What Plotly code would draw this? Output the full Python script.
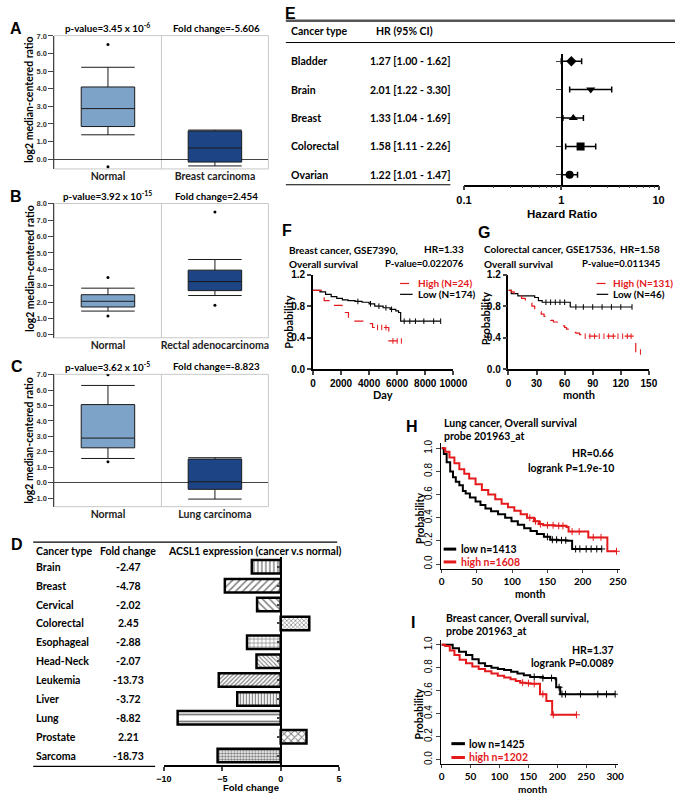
import plotly.graph_objects as go

W, H = 689, 800

# ---------------- data ----------------
# Panel A (Oncomine box plot)
a_groups = ["Normal", "Breast carcinoma"]
a_lowf = [1.38, -0.39]
a_q1 = [1.85, -0.17]
a_med = [2.87, 0.63]
a_q3 = [4.10, 1.60]
a_upf = [5.22, 1.65]
a_out_grp = ["Normal", "Normal"]
a_out_val = [6.51, -0.43]
a_pvalue = "3.45 x 10<sup>-6</sup>"
a_fold = "-5.606"

# Panel B
b_groups = ["Normal", "Rectal adenocarcinoma"]
b_lowf = [1.45, 2.40]
b_q1 = [1.70, 2.70]
b_med = [2.05, 3.25]
b_q3 = [2.45, 3.95]
b_upf = [2.85, 4.60]
b_out_grp = ["Normal", "Normal", "Rectal adenocarcinoma", "Rectal adenocarcinoma"]
b_out_val = [3.50, 1.15, 7.50, 1.80]
b_pvalue = "3.92 x 10<sup>-15</sup>"
b_fold = "2.454"

# Panel C
c_groups = ["Normal", "Lung carcinoma"]
c_lowf = [1.57, -1.06]
c_q1 = [2.26, -0.43]
c_med = [2.89, 0.06]
c_q3 = [5.06, 1.53]
c_upf = [6.30, 1.62]
c_out_grp = ["Normal", "Normal"]
c_out_val = [7.00, 1.36]
c_pvalue = "3.62 x 10<sup>-5</sup>"
c_fold = "-8.823"

# Panel D
d_types = ["Brain", "Breast", "Cervical", "Colorectal", "Esophageal", "Head-Neck",
           "Leukemia", "Liver", "Lung", "Prostate", "Sarcoma"]
d_fold = [-2.47, -4.78, -2.02, 2.45, -2.88, -2.07, -13.73, -3.72, -8.82, 2.21, -18.73]
d_bar = [-2.47, -4.78, -2.02, 2.45, -2.88, -2.07, -5.3, -3.72, -8.82, 2.21, -5.4]
d_ticks = [-10, -5, 0, 5]

# Panel E (forest plot)
e_types = ["Bladder", "Brain", "Breast", "Colorectal", "Ovarian"]
e_hr = [1.27, 2.01, 1.33, 1.58, 1.22]
e_lo = [1.00, 1.22, 1.04, 1.11, 1.01]
e_hi = [1.62, 3.30, 1.69, 2.26, 1.47]

# Panel F (breast cancer GSE7390, days)
f_high_t = [0, 700, 800, 1260, 2070, 2530, 2990, 3560, 4250, 5400, 6320]
f_high_s = [1.0, 0.94, 0.87, 0.81, 0.72, 0.66, 0.61, 0.58, 0.53, 0.36, 0.36]
f_low_t = [0, 500, 900, 1300, 1700, 2100, 2500, 3000, 3500, 4000, 4400, 5000, 5500, 5900, 6100, 6250, 9100]
f_low_s = [1.0, 0.98, 0.95, 0.92, 0.90, 0.88, 0.87, 0.86, 0.85, 0.83, 0.80, 0.78, 0.76, 0.74, 0.72, 0.61, 0.61]
f_high_cens = [4600, 4900, 5200, 5700, 6000, 6300]
f_low_cens = [3200, 4100, 4700, 5200, 5600, 6500, 6900, 7300, 7900, 8600, 9100]

# Panel G (colorectal cancer GSE17536, months)
g_high_t = [0, 3, 6, 10, 14, 18, 21, 25, 28, 31, 35, 38, 41, 45, 48, 52, 56, 60, 62, 66, 70, 72, 76, 79, 136, 143]
g_high_s = [1.0, 0.98, 0.96, 0.93, 0.90, 0.87, 0.84, 0.80, 0.76, 0.73, 0.70, 0.67, 0.65, 0.62, 0.60, 0.575,
            0.55, 0.53, 0.51, 0.49, 0.47, 0.46, 0.44, 0.42, 0.22, 0.22]
g_low_t = [0, 3, 10, 28, 32, 36, 66, 132]
g_low_s = [1.0, 0.96, 0.93, 0.91, 0.87, 0.85, 0.79, 0.79]
g_high_cens = [82, 87, 92, 97, 102, 107, 112, 117, 122, 127, 131, 141]
g_low_cens = [40, 45, 50, 55, 60, 72, 80, 90, 100, 110, 120, 132]

# Panel H (lung cancer, KM plotter)
h_low_t = [0, 3, 7, 12, 16, 20, 25, 30, 34, 40, 48, 55, 62, 70, 80, 90, 99, 108, 117, 126, 135, 145, 154,
           165, 177, 185, 227]
h_low_s = [1.0, 0.95, 0.88, 0.80, 0.75, 0.71, 0.68, 0.63, 0.61, 0.575, 0.54, 0.51, 0.48, 0.455, 0.43, 0.40,
           0.37, 0.34, 0.31, 0.285, 0.26, 0.235, 0.21, 0.205, 0.20, 0.13, 0.13]
h_high_t = [0, 5, 11, 18, 25, 32, 39, 48, 57, 66, 76, 85, 94, 103, 112, 121, 131, 138, 144, 160, 177, 180,
            205, 208, 232, 235, 248]
h_high_s = [1.0, 0.97, 0.92, 0.87, 0.82, 0.78, 0.74, 0.69, 0.64, 0.60, 0.56, 0.52, 0.49, 0.46, 0.43, 0.40,
            0.37, 0.345, 0.335, 0.33, 0.32, 0.28, 0.28, 0.23, 0.23, 0.11, 0.11]
h_low_cens = [150, 157, 163, 170, 176, 190, 196, 205, 212, 220, 227]
h_high_cens = [125, 133, 140, 150, 158, 166, 172, 185, 195, 215, 226, 248]

# Panel I (breast cancer, KM plotter)
i_low_t = [0, 8, 19, 30, 42, 53, 64, 75, 86, 97, 108, 120, 131, 142, 153, 175, 197, 198, 205, 300]
i_low_s = [1.0, 1.0, 0.97, 0.94, 0.91, 0.875, 0.84, 0.815, 0.80, 0.79, 0.78, 0.765, 0.75, 0.735, 0.72, 0.71,
           0.70, 0.63, 0.57, 0.57]
i_high_t = [0, 6, 14, 22, 31, 42, 53, 64, 75, 86, 97, 108, 119, 128, 136, 145, 153, 170, 181, 191, 233]
i_high_s = [1.0, 0.99, 0.95, 0.91, 0.87, 0.84, 0.81, 0.79, 0.77, 0.75, 0.73, 0.715, 0.70, 0.685, 0.67, 0.665,
            0.66, 0.57, 0.51, 0.39, 0.39]
i_low_cens = [160, 175, 190, 203, 208, 214, 240, 270, 285, 300]
i_high_cens = [140, 150, 160, 175, 193, 233]

# ---------------- helpers ----------------
CAL = "Lato, Carlito, Calibri, sans-serif"
ARI = "Liberation Sans, Arial, sans-serif"
RED = "#e41a1c"


def dx(a, b):
    return [a / W, b / W]


def dy(top, bot):
    return [1 - bot / H, 1 - top / H]


annotations = []
shapes = []


def T(s, x, y, size=11, color="black", xa="left", fam=CAL, bold=True, yref=None, angle=0):
    annotations.append(dict(
        text=f"<b>{s}</b>" if bold else s,
        x=x / W, xref="paper",
        y=(1 - y / H) if yref is None else y, yref="paper" if yref is None else yref,
        xanchor=xa, yanchor="middle", showarrow=False, textangle=angle,
        font=dict(family=fam, size=size, color=color)))


def L(x0, y0, x1, y1, color="black", width=1, dash="solid"):
    shapes.append(dict(type="line", xref="paper", yref="paper",
                       x0=x0 / W, x1=x1 / W, y0=1 - y0 / H, y1=1 - y1 / H,
                       line=dict(color=color, width=width, dash=dash)))


def surv_at(ts, ss, t):
    v = ss[0]
    for tt, s in zip(ts, ss):
        if tt <= t:
            v = s
    return v


def key(n):
    return "" if n == 1 else str(n)


fig = go.Figure()
layout = {}

# ---------------- Panels A-C ----------------
box_colors = ["#7ea3c9", "#1d4485"]
panels = [
    (1, a_groups, a_lowf, a_q1, a_med, a_q3, a_upf, a_out_grp, a_out_val, 31, 166, [-0.56, 7.02], True),
    (2, b_groups, b_lowf, b_q1, b_med, b_q3, b_upf, b_out_grp, b_out_val, 201, 337, [-0.18, 8.02], False),
    (3, c_groups, c_lowf, c_q1, c_med, c_q3, c_upf, c_out_grp, c_out_val, 374, 508, [-1.55, 7.02], True),
]
for (n, grp, lf, q1, md, q3, uf, og, ov, top, bot, rng, zl) in panels:
    k = key(n)
    for i, g in enumerate(grp):
        fig.add_trace(go.Box(x=[g], q1=[q1[i]], median=[md[i]], q3=[q3[i]],
                             lowerfence=[lf[i]], upperfence=[uf[i]],
                             fillcolor=box_colors[i], line=dict(color="#1a1a1a", width=1),
                             width=0.5, whiskerwidth=1, boxpoints=False,
                             xaxis="x" + k, yaxis="y" + k, hoverinfo="skip"))
    fig.add_trace(go.Scatter(x=og, y=ov, mode="markers",
                             marker=dict(color="black", size=3),
                             xaxis="x" + k, yaxis="y" + k, hoverinfo="skip"))
    layout["xaxis" + k] = dict(domain=dx(48, 269), range=[-0.5, 1.5], type="category",
                               categoryorder="array", categoryarray=grp,
                               showline=False, ticks="", showgrid=False, zeroline=False,
                               tickfont=dict(family=CAL, size=10.5, color="#222", weight="bold"),
                               anchor="y" + k)
    layout["yaxis" + k] = dict(domain=dy(top, bot), range=rng, showline=True, linecolor="#444",
                               linewidth=1, ticks="outside", ticklen=5, tickcolor="#444",
                               tick0=0, dtick=1, tickformat=".1f", showgrid=False,
                               zeroline=zl, zerolinecolor="#444", zerolinewidth=1.2,
                               tickfont=dict(family=ARI, size=7.5, color="#333", weight="bold"),
                               anchor="x" + k)
    shapes.append(dict(type="rect", xref=f"x{k} domain", yref=f"y{k} domain", x0=0, x1=1, y0=0, y1=1,
                       line=dict(color="#c8c8c8", width=1), layer="below"))
    shapes.append(dict(type="line", xref=f"x{k} domain", yref=f"y{k} domain", x0=0.5, x1=0.5, y0=0, y1=1,
                       line=dict(color="#c8c8c8", width=1), layer="below"))

for (pv, fc, yy) in [(a_pvalue, a_fold, 23), (b_pvalue, b_fold, 193), (c_pvalue, c_fold, 366)]:
    T("p-value=" + pv, 103, yy, size=9.8, xa="center")
    T("Fold change=" + fc, 215, yy, size=9.8, xa="center")
for yy in [96, 267, 441]:
    T("log2 median-centered ratio", 22, yy, size=10.5, xa="center", angle=-90)

# ---------------- Panel D ----------------
fig.add_trace(go.Bar(
    x=d_bar, y=d_types, orientation="h", width=0.72,
    marker=dict(color="white", line=dict(color="black", width=2.5),
                pattern=dict(shape=["|", "/", "\\", "x", "+", "\\", "/", "|", "-", "x", "."],
                             size=[4, 5, 5, 3, 4, 3, 3, 3, 7, 5, 3],
                             solidity=[0.35, 0.3, 0.3, 0.4, 0.3, 0.35, 0.4, 0.4, 0.25, 0.35, 0.5],
                             fgcolor="black", bgcolor="white")),
    xaxis="x4", yaxis="y4", hoverinfo="skip"))
layout["xaxis4"] = dict(domain=dx(161, 342), range=[-10, 5], tickvals=d_ticks, ticks="outside",
                        ticklen=4, tickwidth=2, showline=True, linewidth=2, linecolor="black",
                        showgrid=False, zeroline=False, anchor="y4",
                        tickfont=dict(family=ARI, size=9, color="black", weight="bold"))
layout["yaxis4"] = dict(domain=dy(559, 770), type="category", categoryorder="array", categoryarray=d_types,
                        range=[10.52, -0.52], showline=True, linewidth=2, linecolor="black",
                        ticks="outside", ticklen=3, tickwidth=1.5, showticklabels=False, showgrid=False,
                        anchor="free", position=282 / W)
T("Fold change", 251, 792, size=9.5, fam=ARI, xa="center")
T("Cancer type", 27, 553, size=10.5)
T("Fold change", 93, 553, size=10.5)
T("ACSL1 expression (cancer v.s normal)", 163, 553, size=10.5)
for name, fc in zip(d_types, d_fold):
    T(name, 27, name, size=10.5, yref="y4")
    T(f"{fc:.2f}", 124, name, size=10.5, xa="center", yref="y4")
L(26, 544, 340, 544, width=1.3)
L(26, 771, 152, 771, width=1.3)

# ---------------- Panel E ----------------
fig.add_trace(go.Scatter(
    x=e_hr, y=e_types, mode="markers",
    marker=dict(symbol=["diamond", "triangle-down", "triangle-up", "square", "circle"], size=8, color="black"),
    error_x=dict(type="data", symmetric=False,
                 array=[h - m for h, m in zip(e_hi, e_hr)],
                 arrayminus=[m - l for m, l in zip(e_hr, e_lo)],
                 color="black", thickness=1.5, width=3),
    xaxis="x5", yaxis="y5", hoverinfo="skip"))
layout["xaxis5"] = dict(domain=dx(471, 672), type="log", range=[-1, 1], tickvals=[0.1, 1, 10],
                        ticktext=["0.1", "1", "10"], ticks="outside", ticklen=4, tickwidth=1.5,
                        showline=True, linewidth=1.5, linecolor="black", showgrid=False, zeroline=False,
                        minor=dict(tickvals=[0.2, 0.3, 0.4, 0.5, 0.6, 0.7, 0.8, 0.9, 2, 3, 4, 5, 6, 7, 8, 9],
                                   ticks="outside", ticklen=2, tickwidth=1, showgrid=False),
                        anchor="y5", tickfont=dict(family=ARI, size=11, color="black", weight="bold"))
layout["yaxis5"] = dict(domain=dy(50, 182), type="category", categoryorder="array", categoryarray=e_types,
                        range=[4.35, -0.24], showline=True, linewidth=1.5, linecolor="black",
                        ticks="outside", ticklen=5, tickwidth=1.2, showticklabels=False, showgrid=False,
                        anchor="free", position=572 / W)
T("Hazard Ratio", 572, 212, size=11.5, fam=ARI, xa="center")
T("Cancer type", 290, 26, size=10.5)
T("HR (95% CI)", 378, 26, size=10.5)
for name, m, lo, hi in zip(e_types, e_hr, e_lo, e_hi):
    T(name, 290, name, size=10.5, yref="y5")
    T(f"{m:.2f} [{lo:.2f} - {hi:.2f}]", 372, name, size=10.5, yref="y5")
L(287, 16, 689, 16, color="#555", width=2.5)
L(287, 38, 689, 38, width=1)
L(287, 182, 457, 182, width=1.2)

# ---------------- Panels F, G (GraphPad KM) ----------------
def km_panel(n, x_dom, x_rng, x_ticks, hi_t, hi_s, lo_t, lo_s, hi_c, lo_c):
    k = key(n)
    fig.add_trace(go.Scatter(x=lo_t, y=lo_s, mode="lines", line=dict(color="black", width=1.2, shape="hv"),
                             xaxis="x" + k, yaxis="y" + k, hoverinfo="skip"))
    fig.add_trace(go.Scatter(x=hi_t, y=hi_s, mode="lines",
                             line=dict(color=RED, width=1.2, shape="hv", dash="dash"),
                             xaxis="x" + k, yaxis="y" + k, hoverinfo="skip"))
    fig.add_trace(go.Scatter(x=lo_c, y=[surv_at(lo_t, lo_s, t) for t in lo_c], mode="markers",
                             marker=dict(symbol="line-ns", size=4, line=dict(color="black", width=1)),
                             xaxis="x" + k, yaxis="y" + k, hoverinfo="skip"))
    fig.add_trace(go.Scatter(x=hi_c, y=[surv_at(hi_t, hi_s, t) for t in hi_c], mode="markers",
                             marker=dict(symbol="line-ns", size=4, line=dict(color=RED, width=1)),
                             xaxis="x" + k, yaxis="y" + k, hoverinfo="skip"))
    layout["xaxis" + k] = dict(domain=dx(*x_dom), range=x_rng, tickvals=x_ticks, tickformat="d",
                               ticks="outside",
                               ticklen=4, tickwidth=1.5, showline=True, linewidth=1.5, linecolor="black",
                               showgrid=False, zeroline=False, anchor="y" + k,
                               tickfont=dict(family=ARI, size=10, color="black", weight="bold"))
    layout["yaxis" + k] = dict(domain=dy(273, 369), range=[0, 1.2], tickvals=[0, 0.4, 0.8, 1.2],
                               tickformat=".1f", ticks="outside", ticklen=4, tickwidth=1.5,
                               showline=True, linewidth=1.5, linecolor="black", showgrid=False,
                               zeroline=False, anchor="x" + k,
                               tickfont=dict(family=ARI, size=10, color="black", weight="bold"))


km_panel(6, (315, 460), [0, 10000], [0, 2000, 4000, 6000, 8000, 10000],
         f_high_t, f_high_s, f_low_t, f_low_s, f_high_cens, f_low_cens)
km_panel(7, (517, 662), [0, 150], [0, 30, 60, 90, 120, 150],
         g_high_t, g_high_s, g_low_t, g_low_s, g_high_cens, g_low_cens)

T("Breast cancer, GSE7390,", 288, 248, size=10)
T("Overall survival", 288, 262, size=10)
T("HR=1.33", 473, 247, size=10, xa="right")
T("P-value=0.022076", 473, 262, size=9.5, xa="right")
T("High (N=24)", 421, 282, size=10, color=RED)
T("Low (N=174)", 421, 293, size=10)
L(405, 282, 418, 282, color=RED, width=1.2, dash="dash")
L(405, 293, 418, 293, width=1.2)
T("Probability", 290, 321, size=11, xa="center", angle=-90)
T("Day", 387, 394, size=11, xa="center")

T("Colorectal cancer, GSE17536,", 490, 247, size=10)
T("Overall survival", 490, 262, size=10)
T("HR=1.58", 676, 247, size=10, xa="right")
T("P-value=0.011345", 676, 262, size=9.5, xa="right")
T("High (N=131)", 623, 282, size=10, color=RED)
T("Low (N=46)", 623, 293, size=10)
L(608, 282, 620, 282, color=RED, width=1.2, dash="dash")
L(608, 293, 620, 293, width=1.2)
T("Probability", 493, 318, size=11, xa="center", angle=-90)
T("month", 590, 394, size=11, xa="center")

# ---------------- Panels H, I (KM plotter) ----------------
def kmp_panel(n, x_dom, y_dom, x_rng, x_ticks, lo_t, lo_s, hi_t, hi_s, lo_c, hi_c):
    k = key(n)
    fig.add_trace(go.Scatter(x=lo_t, y=lo_s, mode="lines", line=dict(color="black", width=2, shape="hv"),
                             xaxis="x" + k, yaxis="y" + k, hoverinfo="skip"))
    fig.add_trace(go.Scatter(x=hi_t, y=hi_s, mode="lines", line=dict(color=RED, width=2, shape="hv"),
                             xaxis="x" + k, yaxis="y" + k, hoverinfo="skip"))
    fig.add_trace(go.Scatter(x=lo_c, y=[surv_at(lo_t, lo_s, t) for t in lo_c], mode="markers",
                             marker=dict(symbol="cross-thin", size=5, line=dict(color="black", width=1)),
                             xaxis="x" + k, yaxis="y" + k, hoverinfo="skip"))
    fig.add_trace(go.Scatter(x=hi_c, y=[surv_at(hi_t, hi_s, t) for t in hi_c], mode="markers",
                             marker=dict(symbol="cross-thin", size=5, line=dict(color=RED, width=1)),
                             xaxis="x" + k, yaxis="y" + k, hoverinfo="skip"))
    layout["xaxis" + k] = dict(domain=dx(*x_dom), range=x_rng, tickvals=x_ticks, ticks="outside",
                               ticklen=3, tickwidth=1, showline=True, linewidth=1, linecolor="black",
                               showgrid=False, zeroline=False, anchor="y" + k,
                               tickfont=dict(family=CAL, size=10, color="black", weight="bold"))
    layout["yaxis" + k] = dict(domain=dy(*y_dom), range=[-0.042, 1.042], tickvals=[0, 0.2, 0.4, 0.6, 0.8, 1.0],
                               tickformat=".1f", tickangle=-90, ticks="outside", ticklen=4, tickwidth=1,
                               showline=True, linewidth=1, linecolor="black", showgrid=False,
                               zeroline=False, anchor="x" + k,
                               tickfont=dict(family=ARI, size=10, color="black"))


kmp_panel(8, (447, 632), (444, 571), [-1.4, 252.7], [0, 50, 100, 150, 200, 250],
          h_low_t, h_low_s, h_high_t, h_high_s, h_low_cens, h_high_cens)
kmp_panel(9, (447, 630), (643, 769), [-1.7, 304.7], [0, 50, 100, 150, 200, 250, 300],
          i_low_t, i_low_s, i_high_t, i_high_s, i_low_cens, i_high_cens)

T("Lung cancer, Overall survival", 448, 423, size=10.5)
T("probe 201963_at", 448, 436, size=10.5)
T("HR=0.66", 628, 454, size=10.5, xa="right")
T("logrank P=1.9e-10", 628, 469, size=10.5, xa="right")
T("low n=1413", 466, 551, size=10.5)
T("high n=1608", 466, 564, size=10.5, color=RED)
L(450, 551, 463, 551, width=3)
L(450, 564, 463, 564, color=RED, width=3)
T("Probability", 425, 520, size=10.5, xa="center", angle=-90)
T("month", 540, 596, size=10.5, xa="center")

T("Breast cancer, Overall survival,", 450, 621, size=10.5)
T("probe 201963_at", 450, 634, size=10.5)
T("HR=1.37", 628, 653, size=10.5, xa="right")
T("logrank P=0.0089", 628, 666, size=10.5, xa="right")
T("low n=1425", 474, 748, size=10.5)
T("high n=1202", 474, 762, size=10.5, color=RED)
L(458, 748, 472, 748, width=3)
L(458, 762, 472, 762, color=RED, width=3)
T("Probability", 425, 718, size=10.5, xa="center", angle=-90)
T("month", 542, 794, size=10, xa="center")

# ---------------- panel letters ----------------
for letter, x, y in [("A", 8, 24), ("B", 8, 194), ("C", 9, 366), ("D", 9, 546), ("E", 292, 9),
                     ("F", 288, 228), ("G", 492, 230), ("H", 417, 427), ("I", 418, 625)]:
    T(letter, x, y, size=16, fam=ARI, xa="center")

layout.update(dict(width=W, height=H, margin=dict(l=0, r=0, t=0, b=0), autosize=False,
                   paper_bgcolor="white", plot_bgcolor="white", showlegend=False, boxmode="overlay",
                   annotations=annotations, shapes=shapes))
fig.update_layout(**layout)
fig.write_html("out.html", config={"displayModeBar": False},
               post_script="document.body.style.margin='0px';document.body.style.overflow='hidden';")
